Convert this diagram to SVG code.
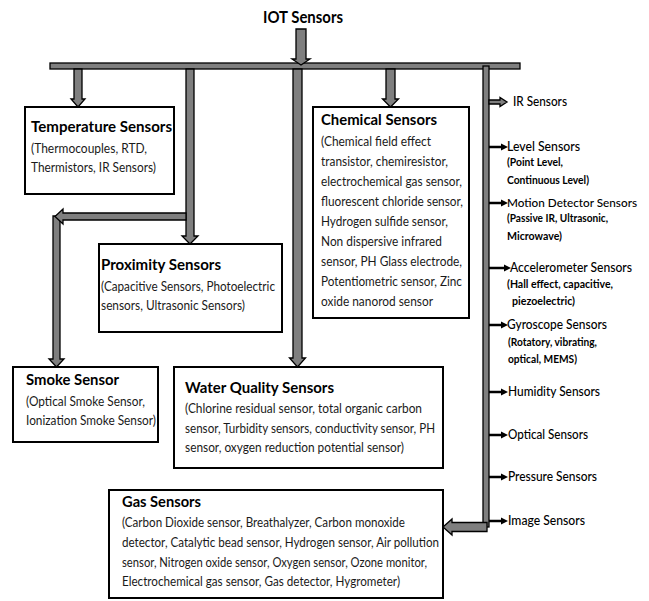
<svg xmlns="http://www.w3.org/2000/svg" width="649" height="601" viewBox="0 0 649 601">
<style>
.box{fill:#fff;stroke:#000;stroke-width:2}
.blk{fill:#7f7f7f;stroke:#000;stroke-width:1.3;stroke-linejoin:miter}
.sm{stroke:#000;stroke-width:2.5;fill:none}
.hd{fill:#000}
text{font-family:Lato,"Liberation Sans",sans-serif;fill:#111}
.t{font-weight:bold;font-size:15px;fill:#000}
.b{font-size:13px;fill:#1a1a1a}
.r{font-size:13px;fill:#000;font-weight:500}
.s{font-size:10.5px;font-weight:bold;fill:#000}
</style>
<rect width="649" height="601" fill="#fff"/>
<g id="connectors">
<rect class="blk" x="50" y="63" width="470" height="6"/>
<polygon class="blk" points="296,29 306,29 306,59 310,59 301,65 292,59 296,59"/>
<polygon class="blk" points="74,69 82,69 82,99 85,99 78,107 71,99 74,99"/>
<polygon class="blk" points="186,69 194,69 194,236 198,236 190,244 182,236 186,236"/>
<polygon class="blk" points="293,69 302,69 302,358 305.5,358 297.5,367 289.5,358 293,358"/>
<polygon class="blk" points="386,69 395,69 395,99 398.5,99 390.5,107 382.5,99 386,99"/>
<polygon class="blk" points="53,216 60,216 60,359 64,359 56.5,367 49,359 53,359"/>
<polygon class="blk" points="186,213 186,220 63,220 63,224 55,216.5 63,209 63,213"/>
<rect class="blk" x="483" y="66" width="6" height="461"/>
<polygon class="blk" points="487,522.5 487,531.5 452,531.5 452,535 443,527 452,519 452,522.5"/>
<polygon class="blk" points="489,100 500,100 500,97.5 507,102 500,106.5 500,104 489,104"/>
<g id="smallArrows">
<path class="sm" d="M489 147H502M489 203H502M489 268H505M489 325H502M489 392H502M489 435H502M489 477H502M489 521H502"/>
<polygon class="hd" points="501,143.5 508,147 501,150.5"/>
<polygon class="hd" points="501,199.5 508,203 501,206.5"/>
<polygon class="hd" points="504,264.5 511,268 504,271.5"/>
<polygon class="hd" points="501,321.5 508,325 501,328.5"/>
<polygon class="hd" points="501,388.5 508,392 501,395.5"/>
<polygon class="hd" points="501,431.5 508,435 501,438.5"/>
<polygon class="hd" points="501,473.5 508,477 501,480.5"/>
<polygon class="hd" points="501,517.5 508,521 501,524.5"/>
</g>
</g>
<g id="root">
<text x="263" y="23" style="font-weight:bold;font-size:17px;fill:#000" textLength="80" lengthAdjust="spacingAndGlyphs">IOT Sensors</text>
</g>
<g id="temperature">
<rect class="box" x="25" y="107" width="149" height="87"/>
<text class="t" x="31" y="132" textLength="141" lengthAdjust="spacingAndGlyphs">Temperature Sensors</text>
<text class="b" x="31" y="153" textLength="116" lengthAdjust="spacingAndGlyphs">(Thermocouples, RTD,</text>
<text class="b" x="31" y="172" textLength="125" lengthAdjust="spacingAndGlyphs">Thermistors, IR Sensors)</text>
</g>
<g id="proximity">
<rect class="box" x="99" y="244" width="183" height="88"/>
<text class="t" x="101" y="270" textLength="120" lengthAdjust="spacingAndGlyphs">Proximity Sensors</text>
<text class="b" x="101" y="291" textLength="174" lengthAdjust="spacingAndGlyphs">(Capacitive Sensors, Photoelectric</text>
<text class="b" x="101" y="310" textLength="144" lengthAdjust="spacingAndGlyphs">sensors, Ultrasonic Sensors)</text>
</g>
<g id="chemical">
<rect class="box" x="313" y="107" width="156" height="211"/>
<text class="t" x="321" y="125" textLength="116" lengthAdjust="spacingAndGlyphs">Chemical Sensors</text>
<text class="b" x="321" y="146" textLength="110" lengthAdjust="spacingAndGlyphs">(Chemical field effect</text>
<text class="b" x="321" y="166" textLength="127" lengthAdjust="spacingAndGlyphs">transistor, chemiresistor,</text>
<text class="b" x="321" y="186" textLength="141" lengthAdjust="spacingAndGlyphs">electrochemical gas sensor,</text>
<text class="b" x="321" y="206" textLength="142" lengthAdjust="spacingAndGlyphs">fluorescent chloride sensor,</text>
<text class="b" x="321" y="226" textLength="127" lengthAdjust="spacingAndGlyphs">Hydrogen sulfide sensor,</text>
<text class="b" x="321" y="246" textLength="121" lengthAdjust="spacingAndGlyphs">Non dispersive infrared</text>
<text class="b" x="321" y="266" textLength="141" lengthAdjust="spacingAndGlyphs">sensor, PH Glass electrode,</text>
<text class="b" x="321" y="286" textLength="141" lengthAdjust="spacingAndGlyphs">Potentiometric sensor, Zinc</text>
<text class="b" x="321" y="306" textLength="112" lengthAdjust="spacingAndGlyphs">oxide nanorod sensor</text>
</g>
<g id="smoke">
<rect class="box" x="13" y="367" width="145" height="75"/>
<text class="t" x="26" y="385" textLength="93" lengthAdjust="spacingAndGlyphs">Smoke Sensor</text>
<text class="b" x="26" y="406" textLength="119" lengthAdjust="spacingAndGlyphs">(Optical Smoke Sensor,</text>
<text class="b" x="26" y="425" textLength="130" lengthAdjust="spacingAndGlyphs">Ionization Smoke Sensor)</text>
</g>
<g id="water">
<rect class="box" x="174" y="367" width="269" height="101"/>
<text class="t" x="185" y="393" textLength="149" lengthAdjust="spacingAndGlyphs">Water Quality Sensors</text>
<text class="b" x="185" y="413" textLength="237" lengthAdjust="spacingAndGlyphs">(Chlorine residual sensor, total organic carbon</text>
<text class="b" x="185" y="433" textLength="250" lengthAdjust="spacingAndGlyphs">sensor, Turbidity sensors, conductivity sensor, PH</text>
<text class="b" x="185" y="452" textLength="219" lengthAdjust="spacingAndGlyphs">sensor, oxygen reduction potential sensor)</text>
</g>
<g id="gas">
<rect class="box" x="109" y="490" width="334" height="108"/>
<text class="t" x="122" y="507" textLength="79" lengthAdjust="spacingAndGlyphs">Gas Sensors</text>
<text class="b" x="122" y="527" textLength="283" lengthAdjust="spacingAndGlyphs">(Carbon Dioxide sensor, Breathalyzer, Carbon monoxide</text>
<text class="b" x="122" y="547" textLength="317" lengthAdjust="spacingAndGlyphs">detector, Catalytic bead sensor, Hydrogen sensor, Air pollution</text>
<text class="b" x="122" y="567" textLength="305" lengthAdjust="spacingAndGlyphs">sensor, Nitrogen oxide sensor, Oxygen sensor, Ozone monitor,</text>
<text class="b" x="122" y="586" textLength="278" lengthAdjust="spacingAndGlyphs">Electrochemical gas sensor, Gas detector, Hygrometer)</text>
</g>
<g id="ir"><text class="r" x="513" y="106" textLength="54" lengthAdjust="spacingAndGlyphs">IR Sensors</text></g>
<g id="level">
<text class="r" x="507" y="151" textLength="73" lengthAdjust="spacingAndGlyphs">Level Sensors</text>
<text class="s" x="507" y="166" textLength="56" lengthAdjust="spacingAndGlyphs">(Point Level,</text>
<text class="s" x="507" y="184" textLength="82" lengthAdjust="spacingAndGlyphs">Continuous Level)</text>
</g>
<g id="motion">
<text class="r" x="507" y="207" style="font-size:12px" textLength="130" lengthAdjust="spacingAndGlyphs">Motion Detector Sensors</text>
<text class="s" x="507" y="222" textLength="101" lengthAdjust="spacingAndGlyphs">(Passive IR, Ultrasonic,</text>
<text class="s" x="507" y="240" textLength="55" lengthAdjust="spacingAndGlyphs">Microwave)</text>
</g>
<g id="accelerometer">
<text class="r" x="510" y="272" textLength="122" lengthAdjust="spacingAndGlyphs">Accelerometer Sensors</text>
<text class="s" x="507" y="288" textLength="106" lengthAdjust="spacingAndGlyphs">(Hall effect, capacitive,</text>
<text class="s" x="512" y="305" textLength="63" lengthAdjust="spacingAndGlyphs">piezoelectric)</text>
</g>
<g id="gyroscope">
<text class="r" x="507" y="329" textLength="100" lengthAdjust="spacingAndGlyphs">Gyroscope Sensors</text>
<text class="s" x="508" y="346" textLength="89" lengthAdjust="spacingAndGlyphs">(Rotatory, vibrating,</text>
<text class="s" x="508" y="363" textLength="69" lengthAdjust="spacingAndGlyphs">optical, MEMS)</text>
</g>
<g id="humidity"><text class="r" x="508" y="396" textLength="92" lengthAdjust="spacingAndGlyphs">Humidity Sensors</text></g>
<g id="optical"><text class="r" x="508" y="439" textLength="80" lengthAdjust="spacingAndGlyphs">Optical Sensors</text></g>
<g id="pressure"><text class="r" x="508" y="481" textLength="89" lengthAdjust="spacingAndGlyphs">Pressure Sensors</text></g>
<g id="image"><text class="r" x="508" y="525" textLength="77" lengthAdjust="spacingAndGlyphs">Image Sensors</text></g>
</svg>
